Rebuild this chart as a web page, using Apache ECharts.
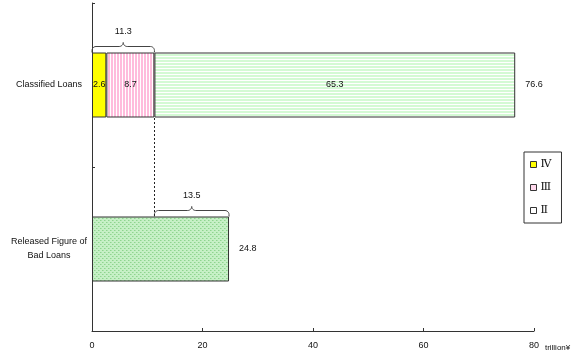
<!DOCTYPE html>
<html><head><meta charset="utf-8">
<script src="https://cdn.jsdelivr.net/npm/echarts@6/dist/echarts.min.js"></script>
<style>html,body{margin:0;padding:0;background:#fff}#c{width:580px;height:358px}</style>
</head><body><div id="c"></div>
<script>
const categories = ['Classified Loans', 'Released Figure of\nBad Loans'];
const legendNames = ['Ⅳ', 'Ⅲ', 'Ⅱ'];
const classIV = [2.6, '-'];
const classIII = [8.7, '-'];
const classII = [65.3, '-'];
const released = ['-', 24.8];
const totals = [[76.6, 0], [24.8, 1]];
const braces = [[0, 11.3, 0], [11.3, 24.8, 1]];
const braceLabels = ['11.3', '13.5'];
const links = [[11.3, 0, 1]];
const xTicks = [0, 20, 40, 60, 80];

function tile(w, h, draw) {
  const c = document.createElement('canvas'); c.width = w; c.height = h;
  const g = c.getContext('2d'); draw(g); return c;
}
const pinkPat = tile(3, 3, g => { g.fillStyle = '#fff'; g.fillRect(0,0,3,3); g.fillStyle = '#ffbcdc'; g.fillRect(0,0,2,3); });
const greenPat = tile(3, 3, g => { g.fillStyle = '#fff'; g.fillRect(0,0,3,3); g.fillStyle = '#d4fad4'; g.fillRect(0,0,3,2); });
const dotPat = tile(4, 4, g => { g.fillStyle = '#c6f0c6'; g.fillRect(0,0,4,4); g.fillStyle = '#8fd48f'; g.fillRect(0,0,1,1); g.fillRect(2,2,1,1); g.fillStyle='#a9e2a9'; g.fillRect(1,0,1,1); g.fillRect(3,2,1,1); });

const font = "'Liberation Sans', Arial, sans-serif";
const border = { borderColor: '#333', borderWidth: 1 };
const inLabel = { show: true, position: 'inside', color: '#111', fontSize: 9, fontFamily: font };

function arc(cx, cy, r, a0, a1, n) {
  const pts = [];
  for (let i = 0; i <= n; i++) { const a = a0 + (a1 - a0) * i / n; pts.push([cx + r * Math.cos(a), cy + r * Math.sin(a)]); }
  return pts;
}

const chart = echarts.init(document.getElementById('c'));
chart.setOption({
  animation: false,
  grid: { left: 92, right: 46, top: 3, bottom: 27 },
  xAxis: {
    type: 'value', min: 0, max: 80, interval: 20,
    axisLine: { show: true, lineStyle: { color: '#333' } },
    axisTick: { show: true, inside: true, length: 3, lineStyle: { color: '#333' } },
    splitLine: { show: false },
    axisLabel: { color: '#111', fontSize: 9, fontFamily: font, margin: 10, formatter: v => xTicks.includes(v) ? String(v) : '' },
    name: 'trillion¥', nameLocation: 'end', nameGap: 10,
    nameTextStyle: { color: '#111', fontSize: 8, fontFamily: font, align: 'left', verticalAlign: 'top', padding: [13, 0, 0, 0] }
  },
  yAxis: {
    type: 'category', data: categories, inverse: true,
    axisLine: { show: true, lineStyle: { color: '#333' } },
    axisTick: { show: true, inside: true, length: 3, lineStyle: { color: '#333' } },
    axisLabel: { color: '#111', fontSize: 9, fontFamily: font, margin: 43, align: 'center', lineHeight: 14 }
  },
  legend: {
    data: [
      { name: 'Ⅳ', itemStyle: { color: '#ffff00', borderColor: '#333', borderWidth: 1 } },
      { name: 'Ⅲ', itemStyle: { color: '#ffd8ec', borderColor: '#333', borderWidth: 1 } },
      { name: 'Ⅱ', itemStyle: { color: '#ffffff', borderColor: '#333', borderWidth: 1 } }
    ],
    orient: 'vertical', left: 524, top: 152, icon: 'rect', itemWidth: 6, itemHeight: 6, itemGap: 12,
    padding: [7, 10, 7, 6], borderColor: '#333', borderWidth: 1, selectedMode: false,
    textStyle: { fontSize: 11, color: '#111', fontFamily: "'DejaVu Serif', 'Liberation Serif', serif", padding: [0, 0, 0, -1] }
  },
  series: [
    { name: 'Ⅳ', type: 'bar', stack: 'a', barWidth: 65, data: classIV, itemStyle: Object.assign({ color: '#ffff00' }, border), label: inLabel },
    { name: 'Ⅲ', type: 'bar', stack: 'a', barWidth: 65, data: classIII, itemStyle: Object.assign({ color: { image: pinkPat, repeat: 'repeat' } }, border), label: inLabel },
    { name: 'Ⅱ', type: 'bar', stack: 'a', barWidth: 65, data: classII, itemStyle: Object.assign({ color: { image: greenPat, repeat: 'repeat' } }, border), label: inLabel },
    { name: 'Released', type: 'bar', stack: 'a', barWidth: 65, data: released, itemStyle: Object.assign({ color: { image: dotPat, repeat: 'repeat' } }, border), label: { show: false } },
    {
      name: 'totals', type: 'custom', data: totals, encode: { x: 0, y: 1 }, clip: false, z: 5,
      renderItem: (params, api) => {
        const p = api.coord([api.value(0), api.value(1)]);
        return { type: 'text', style: { text: String(api.value(0)), x: p[0] + 10, y: p[1], textAlign: 'left', textVerticalAlign: 'middle', fill: '#111', font: '9px ' + font } };
      }
    },
    {
      name: 'braces', type: 'custom', data: braces, encode: { x: [0, 1], y: 2 }, clip: false, z: 5,
      renderItem: (params, api) => {
        const a = api.coord([api.value(0), api.value(2)]);
        const b = api.coord([api.value(1), api.value(2)]);
        const yb = a[1] - 32.5, yh = yb - 6, yp = yb - 12, r = 4;
        const x1 = a[0], x2 = b[0], m = (x1 + x2) / 2;
        let pts = [[x1, yb]];
        pts = pts.concat(arc(x1 + r, yh + r, r, Math.PI, Math.PI * 1.5, 6));
        pts = pts.concat(arc(m - r, yh - r, r, Math.PI * 0.5, 0, 6));
        pts = pts.concat(arc(m + r, yh - r, r, Math.PI, Math.PI * 0.5, 6));
        pts = pts.concat(arc(x2 - r, yh + r, r, Math.PI * 1.5, Math.PI * 2, 6));
        pts.push([x2, yb]);
        return { type: 'group', children: [
          { type: 'polyline', shape: { points: pts }, style: { stroke: '#444', lineWidth: 1, fill: null } },
          { type: 'text', style: { text: braceLabels[params.dataIndex], x: m, y: yb - 21, textAlign: 'center', textVerticalAlign: 'middle', fill: '#111', font: '9px ' + font } }
        ] };
      }
    },
    {
      name: 'links', type: 'custom', data: links, encode: { x: 0, y: [1, 2] }, clip: false, z: 5,
      renderItem: (params, api) => {
        const a = api.coord([api.value(0), api.value(1)]);
        const b = api.coord([api.value(0), api.value(2)]);
        return { type: 'line', shape: { x1: Math.round(a[0]) + 0.5, y1: a[1] + 33, x2: Math.round(b[0]) + 0.5, y2: b[1] - 33 }, style: { stroke: '#222', lineWidth: 1, lineDash: [2, 2] } };
      }
    }
  ]
});
</script></body></html>
